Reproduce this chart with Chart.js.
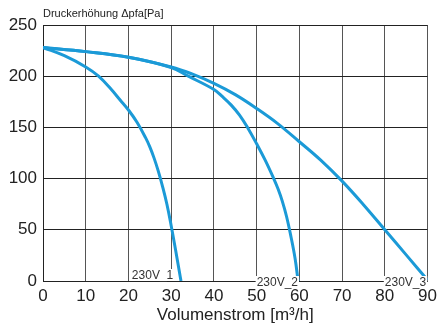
<!DOCTYPE html>
<html>
<head>
<meta charset="utf-8">
<script src="https://cdn.jsdelivr.net/npm/chart.js@4"></script>
<style>
  html, body { margin: 0; padding: 0; background: #fff; }
  #wrap { width: 442px; height: 328px; }
</style>
</head>
<body>
<div id="wrap"><canvas id="kennlinie" width="442" height="328"></canvas></div>
<script>
// Kennlinien (Volumenstrom m3/h -> Druckerhöhung Pa)
const v1X = [0, 5, 10, 13, 16, 18, 20, 22, 24, 25, 26, 27, 28, 29, 30, 31, 32, 32.3];
const v1Y = [228, 220, 209, 200, 187, 177, 167, 155, 140, 131, 120, 107, 92, 75, 54, 31, 7, 0];

const v2X = [0, 10, 20, 30, 34, 40, 42, 44, 46, 48, 50, 52, 54, 55, 56, 57, 58, 59, 59.7];
const v2Y = [228, 224, 218.5, 208.5, 200, 187, 180, 172, 162, 149, 134, 118, 100, 90, 78, 63, 44, 22, 0];

const v3X = [0, 10, 20, 30, 35, 40, 45, 50, 55, 60, 65, 70, 75, 80, 85, 90];
const v3Y = [228, 224, 218.5, 209, 202, 193, 182, 168.5, 153.5, 136, 118, 97.5, 74.5, 50, 25.5, 1];

const curveNames = ['230V_1', '230V_2', '230V_3'];
const labelStartX = [20.8, 50, 80]; // linke Kante der Beschriftung (m3/h)

const xTicks = [0, 10, 20, 30, 40, 50, 60, 70, 80, 90];
const yTicks = [0, 50, 100, 150, 200, 250];

const lineColor = '#1b9ad7';
const fontFam = '"Liberation Sans", Arial, sans-serif';

function toPoints(xs, ys) {
  return xs.map((x, i) => ({ x: x, y: ys[i] }));
}

function curve(xs, ys) {
  return {
    data: toPoints(xs, ys),
    showLine: true,
    borderColor: lineColor,
    borderWidth: 3,
    pointRadius: 0,
    tension: 0.4,
    fill: false
  };
}

// Titel oben links + Beschriftungen der Kurven
const extras = {
  id: 'extras',
  afterDraw(chart) {
    const ctx = chart.ctx;
    const xs = chart.scales.x;
    const ys = chart.scales.y;
    const area = chart.chartArea;
    ctx.save();
    ctx.fillStyle = '#222';
    ctx.font = '11px ' + fontFam;
    ctx.textAlign = 'left';
    ctx.textBaseline = 'alphabetic';
    ctx.fillText('Druckerhöhung \u0394pfa[Pa]', area.left, 17);

    ctx.font = '12px ' + fontFam;
    curveNames.forEach((name, i) => {
      const left = xs.getPixelForValue(labelStartX[i]);
      const base = ys.getPixelForValue(0) + (i === 0 ? -2 : 5);
      const w = ctx.measureText(name).width;
      ctx.fillStyle = '#fff';
      ctx.fillRect(left - 1, base - 10, w + 2, 12);
      ctx.fillStyle = '#333';
      ctx.fillText(name, left, base);
    });
    ctx.restore();
  }
};

new Chart(document.getElementById('kennlinie'), {
  type: 'scatter',
  data: {
    datasets: [curve(v1X, v1Y), curve(v2X, v2Y), curve(v3X, v3Y)]
  },
  options: {
    responsive: false,
    animation: false,
    layout: { padding: { top: 25, right: 7, left: 0, bottom: 0 } },
    plugins: {
      legend: { display: false },
      tooltip: { enabled: false }
    },
    scales: {
      x: {
        type: 'linear',
        min: 0,
        max: 90,
        afterFit(scale) { scale.height = 47; },
        afterBuildTicks(scale) { scale.ticks = xTicks.map(v => ({ value: v })); },
        grid: { color: '#555', lineWidth: 1, drawTicks: false },
        border: { color: '#222', width: 1 },
        ticks: {
          color: '#222',
          padding: 5,
          maxRotation: 0,
          font: { family: fontFam, size: 17 }
        },
        title: {
          display: true,
          text: 'Volumenstrom [m\u00b3/h]',
          color: '#222',
          padding: { top: 0, bottom: 2 },
          font: { family: fontFam, size: 17 }
        }
      },
      y: {
        type: 'linear',
        min: 0,
        max: 250,
        afterFit(scale) { scale.width = 43; },
        afterBuildTicks(scale) { scale.ticks = yTicks.map(v => ({ value: v })); },
        grid: { color: '#222', lineWidth: 1, drawTicks: false },
        border: { color: '#222', width: 1 },
        ticks: {
          color: '#222',
          padding: 6,
          font: { family: fontFam, size: 17 }
        }
      }
    }
  },
  plugins: [extras]
});
</script>
</body>
</html>
